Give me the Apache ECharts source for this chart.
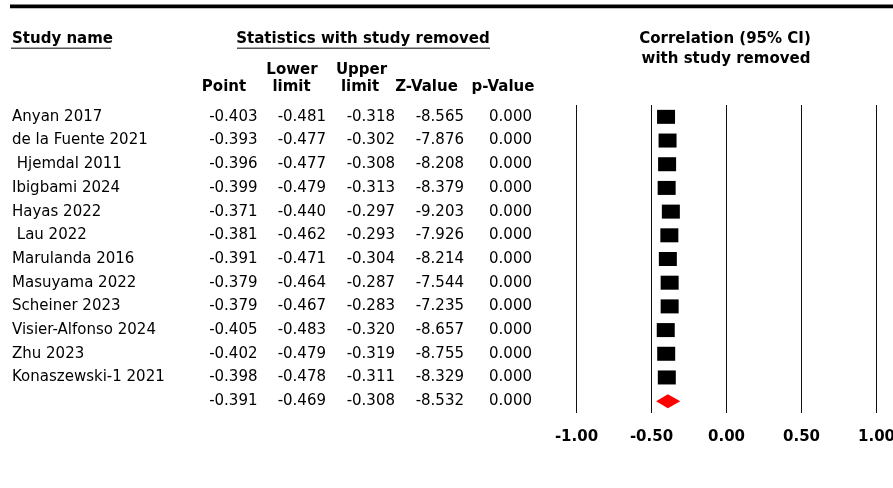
<!DOCTYPE html>
<html>
<head>
<meta charset="utf-8">
<script src="https://cdn.jsdelivr.net/npm/echarts@6/dist/echarts.min.js"></script>
<style>
html,body{margin:0;padding:0;background:#fff;}
#chart{width:893px;height:488px;}
</style>
</head>
<body>
<div id="chart"></div>
<script>
// ---- data ----
const studies = ["Anyan 2017", "de la Fuente 2021", " Hjemdal 2011", "Ibigbami 2024", "Hayas 2022", " Lau 2022",
  "Marulanda 2016", "Masuyama 2022", "Scheiner 2023", "Visier-Alfonso 2024", "Zhu 2023", "Konaszewski-1 2021"];
const pointEst = [-0.403, -0.393, -0.396, -0.399, -0.371, -0.381, -0.391, -0.379, -0.379, -0.405, -0.402, -0.398];
const lowerLim = [-0.481, -0.477, -0.477, -0.479, -0.440, -0.462, -0.471, -0.464, -0.467, -0.483, -0.479, -0.478];
const upperLim = [-0.318, -0.302, -0.308, -0.313, -0.297, -0.293, -0.304, -0.287, -0.283, -0.320, -0.319, -0.311];
const zValues = [-8.565, -7.876, -8.208, -8.379, -9.203, -7.926, -8.214, -7.544, -7.235, -8.657, -8.755, -8.329];
const pValues = [0.000, 0.000, 0.000, 0.000, 0.000, 0.000, 0.000, 0.000, 0.000, 0.000, 0.000, 0.000];
const summaryPoint = -0.391, summaryLower = -0.469, summaryUpper = -0.308, summaryZ = -8.532, summaryP = 0.000;
const xTicks = [-1.00, -0.50, 0.00, 0.50, 1.00];

// ---- derived ----
const categories = studies.concat([""]);
const colPoint = pointEst.concat([summaryPoint]);
const colLower = lowerLim.concat([summaryLower]);
const colUpper = upperLim.concat([summaryUpper]);
const colZ = zValues.concat([summaryZ]);
const colP = pValues.concat([summaryP]);

const FONT = "DejaVu Sans";
const GRID_LEFT = 576.5;

function colAxis(arr, rightEdge) {
  return {
    type: 'category', data: categories, inverse: true, position: 'left',
    axisLine: {show: false}, axisTick: {show: false}, splitLine: {show: false},
    axisLabel: {
      interval: 0, align: 'right', margin: GRID_LEFT - rightEdge,
      fontFamily: FONT, fontSize: 15, color: '#000',
      formatter: function (v, i) { return arr[i].toFixed(3); }
    }
  };
}

const chart = echarts.init(document.getElementById('chart'), null, {renderer: 'canvas'});

function hText(txt, x, y, align) {
  return {type: 'text', x: x, y: y, silent: true,
    style: {text: txt, fontFamily: FONT, fontSize: 15, fontWeight: 'bold', fill: '#000',
      align: align || 'center', verticalAlign: 'middle'}};
}

const option = {
  animation: false,
  backgroundColor: '#fff',
  grid: {left: GRID_LEFT, right: 16.5, top: 105, bottom: 75, containLabel: false, outerBoundsMode: 'none'},
  xAxis: {
    type: 'value', min: -1, max: 1, interval: 0.5,
    axisLine: {show: false}, axisTick: {show: false},
    splitLine: {show: true, lineStyle: {color: '#111', width: 1}},
    axisLabel: {
      margin: 17, fontFamily: FONT, fontSize: 15, fontWeight: 'bold', color: '#000',
      showMinLabel: true, showMaxLabel: true,
      formatter: function (v) {
        const t = xTicks.find(function (k) { return Math.abs(k - v) < 1e-9; });
        return (t === undefined ? v : t).toFixed(2);
      }
    }
  },
  yAxis: [
    {
      type: 'category', data: categories, inverse: true, position: 'left',
      axisLine: {show: false}, axisTick: {show: false}, splitLine: {show: false},
      axisLabel: {interval: 0, align: 'left', margin: GRID_LEFT - 12,
        fontFamily: FONT, fontSize: 15, color: '#000'}
    },
    colAxis(colPoint, 257.5),
    colAxis(colLower, 326),
    colAxis(colUpper, 395),
    colAxis(colZ, 464),
    colAxis(colP, 532)
  ],
  series: [
    {
      type: 'scatter', yAxisIndex: 0, symbol: 'rect', symbolSize: [18, 14],
      itemStyle: {color: '#000', opacity: 1}, silent: true,
      data: pointEst.map(function (v, i) { return [v, i]; })
    },
    {
      type: 'custom', yAxisIndex: 0, silent: true,
      encode: {x: [0, 1, 2], y: 3},
      data: [[summaryLower, summaryPoint, summaryUpper, studies.length]],
      renderItem: function (params, api) {
        const c = api.value(3);
        const pl = api.coord([api.value(0), c]);
        const pp = api.coord([api.value(1), c]);
        const pu = api.coord([api.value(2), c]);
        const h = 7;
        return {
          type: 'polygon',
          shape: {points: [[pl[0], pp[1]], [pp[0], pp[1] - h], [pu[0], pp[1]], [pp[0], pp[1] + h]]},
          style: {fill: '#ff0000', stroke: null}
        };
      }
    }
  ],
  graphic: [
    {type: 'rect', shape: {x: 10, y: 4.5, width: 883, height: 3.8}, style: {fill: '#000'}, silent: true},
    hText('Study name', 12, 39, 'left'),
    {type: 'rect', shape: {x: 11, y: 47.5, width: 100, height: 1.6}, style: {fill: '#555'}, silent: true},
    hText('Statistics with study removed', 363, 39),
    {type: 'rect', shape: {x: 237, y: 47.5, width: 253, height: 1.6}, style: {fill: '#555'}, silent: true},
    hText('Correlation (95% CI)', 725, 39),
    hText('with study removed', 726, 59),
    hText('Point', 224, 87),
    hText('Lower', 292, 70),
    hText('limit', 291.5, 87),
    hText('Upper', 361.5, 70),
    hText('limit', 360, 87),
    hText('Z-Value', 426.5, 87),
    hText('p-Value', 503, 87)
  ]
};
chart.setOption(option);
</script>
</body>
</html>
